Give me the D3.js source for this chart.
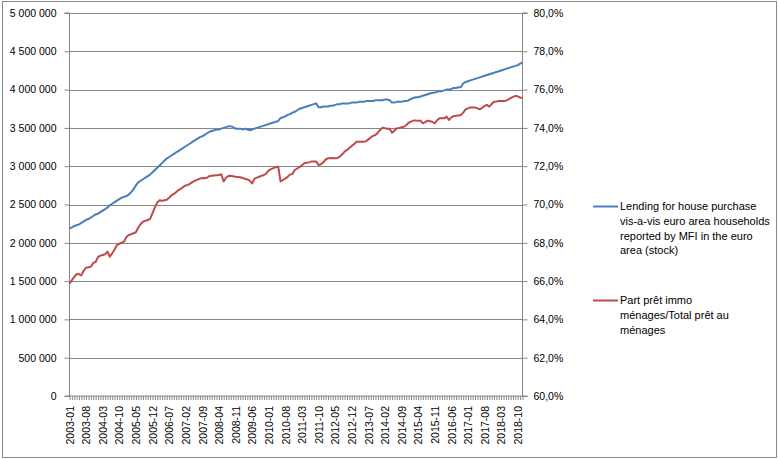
<!DOCTYPE html>
<html><head><meta charset="utf-8">
<script src="https://cdn.jsdelivr.net/npm/d3@7/dist/d3.min.js"></script>
<style>
body{margin:0;background:#fff;}
svg text{font-family:"Liberation Sans",Arial,sans-serif;fill:#000;}
</style></head><body>
<svg id="c" width="779" height="459"></svg>
<script>
// Lending for house purchase (stock), monthly 2003-01 .. 2018-12
const lending = [
2190000,2200000,2220000,2230000,2240000,2260000,2280000,2300000,2310000,2330000,2350000,2370000,
2380000,2400000,2420000,2440000,2460000,2490000,2510000,2530000,2550000,2570000,2590000,2600000,
2610000,2630000,2660000,2700000,2750000,2790000,2810000,2830000,2850000,2870000,2890000,2920000,
2950000,2980000,3010000,3040000,3070000,3100000,3120000,3140000,3160000,3180000,3200000,3220000,
3240000,3260000,3280000,3300000,3320000,3340000,3360000,3380000,3390000,3410000,3430000,3450000,
3460000,3470000,3480000,3480000,3490000,3500000,3510000,3520000,3520000,3510000,3490000,3490000,
3490000,3480000,3490000,3480000,3470000,3480000,3490000,3500000,3510000,3520000,3530000,3540000,
3550000,3560000,3570000,3580000,3590000,3630000,3640000,3650000,3670000,3680000,3700000,3710000,
3730000,3750000,3760000,3770000,3780000,3790000,3800000,3810000,3820000,3770000,3770000,3780000,
3780000,3780000,3790000,3790000,3800000,3810000,3810000,3820000,3820000,3820000,3820000,3830000,
3830000,3830000,3840000,3840000,3840000,3850000,3850000,3850000,3850000,3860000,3860000,3860000,
3860000,3870000,3870000,3860000,3830000,3830000,3840000,3840000,3840000,3850000,3850000,3860000,
3880000,3890000,3900000,3900000,3910000,3920000,3930000,3940000,3950000,3960000,3960000,3970000,
3980000,3980000,3990000,4000000,4000000,4010000,4020000,4020000,4030000,4030000,4080000,4100000,
4110000,4120000,4130000,4140000,4150000,4160000,4170000,4180000,4190000,4200000,4210000,4220000,
4230000,4240000,4250000,4260000,4270000,4280000,4290000,4300000,4310000,4320000,4340000,4350000
];
// Part prêt immo ménages / total prêt aux ménages (%)
const share = [
65.87,66.05,66.22,66.37,66.36,66.30,66.55,66.70,66.72,66.75,66.95,67.00,
67.25,67.33,67.36,67.40,67.54,67.27,67.45,67.65,67.88,67.95,68.01,68.06,
68.30,68.41,68.45,68.50,68.55,68.80,68.98,69.10,69.15,69.19,69.25,69.55,
69.85,70.10,70.22,70.20,70.22,70.25,70.35,70.48,70.55,70.65,70.76,70.82,
70.92,71.00,71.02,71.10,71.18,71.25,71.30,71.35,71.38,71.37,71.40,71.49,
71.50,71.52,71.53,71.54,71.58,71.20,71.40,71.49,71.50,71.48,71.45,71.43,
71.42,71.38,71.34,71.31,71.25,71.10,71.35,71.40,71.45,71.50,71.54,71.62,
71.78,71.85,71.90,71.95,71.97,71.20,71.28,71.35,71.45,71.56,71.60,71.80,
71.88,71.95,72.05,72.15,72.18,72.20,72.24,72.24,72.25,72.06,72.10,72.20,
72.35,72.41,72.42,72.43,72.42,72.43,72.50,72.62,72.76,72.85,72.95,73.06,
73.15,73.28,73.28,73.28,73.28,73.30,73.40,73.50,73.58,73.63,73.75,73.90,
74.01,73.98,73.96,73.95,73.75,73.85,73.98,74.00,74.03,74.06,74.15,74.27,
74.33,74.38,74.38,74.37,74.38,74.24,74.30,74.38,74.35,74.32,74.24,74.40,
74.50,74.50,74.50,74.59,74.41,74.55,74.62,74.63,74.65,74.67,74.80,74.97,
75.02,75.07,75.07,75.07,75.02,74.97,75.05,75.15,75.20,75.11,75.25,75.37,
75.38,75.40,75.40,75.40,75.42,75.48,75.55,75.62,75.67,75.65,75.58,75.58
];
const months = [];
for (let y = 2003; y <= 2018; y++) for (let m = 1; m <= 12; m++) months.push(y + "-" + String(m).padStart(2, "0"));
const leftTicks = [0,500000,1000000,1500000,2000000,2500000,3000000,3500000,4000000,4500000,5000000];
const rightTicks = [60,62,64,66,68,70,72,74,76,78,80];
const labelStep = 7;
const seriesNames = ["Lending for house purchase vis-a-vis euro area households reported by MFI in the euro area (stock)",
  "Part prêt immo ménages/Total prêt au ménages"];
const legendLines = [["Lending for house purchase","vis-a-vis euro area households","reported by MFI in the euro","area (stock)"],
  ["Part prêt immo","ménages/Total prêt au","ménages"]];
const colors = ["#4A7EBB", "#BE4B48"];

const svg = d3.select("#c");
const L = 69.5, R = 522.5, T = 13, B = 396;
const x = d3.scalePoint().domain(months).range([L, R]);
const yL = d3.scaleLinear().domain([0, 5000000]).range([B, T]);
const yR = d3.scaleLinear().domain([60, 80]).range([B, T]);
const loc = d3.formatLocale({decimal: ",", thousands: "\u00a0", grouping: [3], currency: ["", ""]});
const fL = loc.format(",d");
const fR = v => loc.format(".1f")(v) + "%";
const grey = "#868686";

// border
svg.append("rect").attr("x", 2.5).attr("y", 1.5).attr("width", 774).attr("height", 456)
  .attr("fill", "#fff").attr("stroke", "#8a8a8a").attr("stroke-width", 1);

// gridlines
svg.append("g").selectAll("line").data(leftTicks.slice(1)).join("line")
  .attr("x1", L).attr("x2", R).attr("y1", d => Math.round(yL(d)) + 0.5).attr("y2", d => Math.round(yL(d)) + 0.5)
  .attr("stroke", grey).attr("stroke-width", 1);

// left axis
const gl = svg.append("g").attr("transform", `translate(${L},0)`)
  .call(d3.axisLeft(yL).tickValues(leftTicks).tickFormat(fL).tickSize(5).tickPadding(8));
// right axis
const gr = svg.append("g").attr("transform", `translate(${R},0)`)
  .call(d3.axisRight(yR).tickValues(rightTicks).tickFormat(fR).tickSize(5).tickPadding(6));
// bottom axis
const gb = svg.append("g").attr("transform", `translate(0,${B})`)
  .call(d3.axisBottom(x).tickValues(months).tickSize(4).tickPadding(6)
    .tickFormat((d, i) => i % labelStep === 0 ? d : ""));
[gl, gr, gb].forEach(g => {
  g.select(".domain").attr("stroke", grey).attr("stroke-width", 1);
  g.selectAll(".tick line").attr("stroke", grey);
  g.selectAll("text").attr("font-size", "10.5px").attr("fill", "#000");
});
gl.select(".domain").attr("d", `M-5,${yL(5000000)}H0V${yL(0)}H-5`);
gr.select(".domain").attr("d", `M5,${yR(80)}H0V${yR(60)}H5`);
gb.select(".domain").attr("d", `M${L},0H${R}`);
gb.selectAll(".tick text")
  .attr("transform", "rotate(-90)")
  .attr("text-anchor", "end")
  .attr("x", -10).attr("y", 0).attr("dy", "0.35em");

// lines
const lineL = d3.line().x((d, i) => x(months[i])).y(d => yL(d));
const lineR = d3.line().x((d, i) => x(months[i])).y(d => yR(d));
svg.append("path").datum(lending).attr("d", lineL).attr("fill", "none")
  .attr("stroke", colors[0]).attr("stroke-width", 2).attr("stroke-linejoin", "round");
svg.append("path").datum(share).attr("d", lineR).attr("fill", "none")
  .attr("stroke", colors[1]).attr("stroke-width", 2).attr("stroke-linejoin", "round");

// legend
const legY = [206.5, 300.5];
legendLines.forEach((lines, k) => {
  const g = svg.append("g");
  g.append("line").attr("x1", 593).attr("x2", 618).attr("y1", legY[k]).attr("y2", legY[k])
    .attr("stroke", colors[k]).attr("stroke-width", 2);
  lines.forEach((t, j) => g.append("text").attr("x", 620).attr("y", legY[k] + j * 14.7)
    .attr("dy", "0.35em").attr("font-size", "11px").text(t));
});
</script>
</body></html>
